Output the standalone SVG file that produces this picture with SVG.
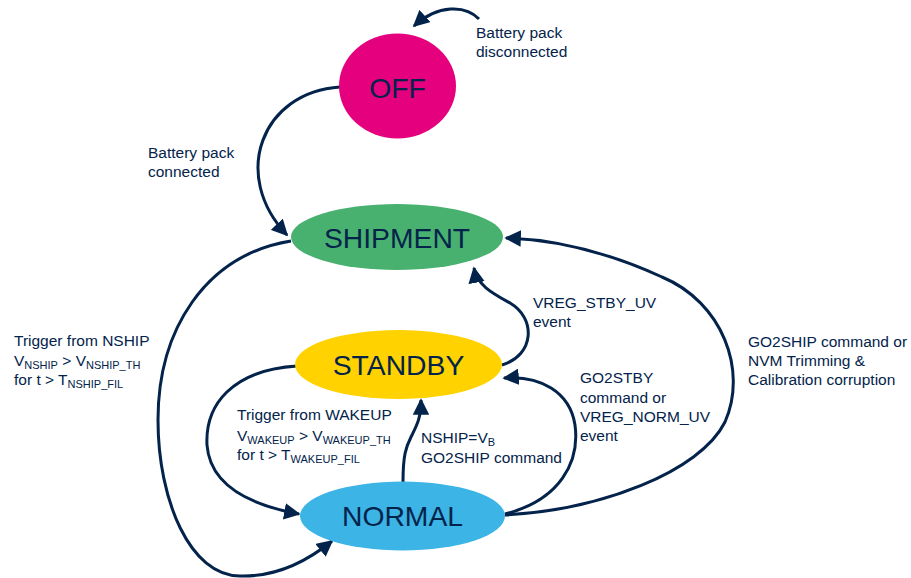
<svg xmlns="http://www.w3.org/2000/svg" width="911" height="578" viewBox="0 0 911 578">
<defs>
<marker id="arr" viewBox="0 0 10 10" refX="9" refY="5" markerWidth="5.5" markerHeight="5.5" markerUnits="strokeWidth" orient="auto">
<path d="M0,0 L10,5 L0,10 z" fill="#03234B"/>
</marker>
<style>
.lbl{font-family:"Liberation Sans",Arial,sans-serif;font-size:15.5px;fill:#03234B}
.sub{font-size:11px}
.node{font-family:"Liberation Sans",Arial,sans-serif;font-size:28.3px;fill:#03234B;text-anchor:middle}
.edge{fill:none;stroke:#03234B;stroke-width:3;marker-end:url(#arr)}
</style>
</defs>
<rect width="911" height="578" fill="#FFFFFF"/>
<g id="connectors">
<path class="edge" d="M479,19 C466,5 438,4 414,26"/>
<path class="edge" d="M340,87 C262,92 230,175 287,235"/>
<path class="edge" d="M291,241 C205,255 158,330 158,420 C158,500 190,576 240,576 C275,577 305,563 332,541"/>
<path class="edge" d="M297,366 C232,370 205,405 207,445 C210,485 250,505 299,514"/>
<path class="edge" d="M403,482 C403,455 406,447 411,437 C417,425 421,418 421,400"/>
<path class="edge" d="M505,514 C560,500 580,462 575,425 C570,392 540,375 504,378"/>
<path class="edge" d="M505,515 C600,510 700,472 725,422 C748,370 722,302 662,277 C612,254 562,240 506,238"/>
<path class="edge" d="M502,365 C535,355 536,318 510,303 C492,293 477,285 474,268"/>
</g>
<g id="off">
<ellipse cx="397.5" cy="86" rx="58.5" ry="52.5" fill="#E5007E"/>
<text class="node" x="397.5" y="98">OFF</text>
</g>
<g id="shipment">
<ellipse cx="397" cy="237" rx="106" ry="33" fill="#49B170"/>
<text class="node" x="397" y="248">SHIPMENT</text>
</g>
<g id="standby">
<ellipse cx="398.5" cy="364.5" rx="103.5" ry="34.5" fill="#FFD200"/>
<text class="node" x="398.5" y="375">STANDBY</text>
</g>
<g id="normal">
<ellipse cx="402.5" cy="516" rx="102.5" ry="34.5" fill="#3CB4E5"/>
<text class="node" x="402.5" y="526">NORMAL</text>
</g>
<g id="labels">
<text class="lbl" x="476" y="38">Battery pack</text>
<text class="lbl" x="476" y="57">disconnected</text>
<text class="lbl" x="148" y="158">Battery pack</text>
<text class="lbl" x="148" y="177">connected</text>
<text class="lbl" x="14" y="346">Trigger from NSHIP</text>
<text class="lbl" x="14" y="366">V<tspan class="sub" dy="3">NSHIP</tspan><tspan dy="-3"> &gt; V</tspan><tspan class="sub" dy="3">NSHIP_TH</tspan></text>
<text class="lbl" x="14" y="385">for t &gt; T<tspan class="sub" dy="3">NSHIP_FIL</tspan></text>
<text class="lbl" x="237" y="420">Trigger from WAKEUP</text>
<text class="lbl" x="237" y="441">V<tspan class="sub" dy="3">WAKEUP</tspan><tspan dy="-3"> &gt; V</tspan><tspan class="sub" dy="3">WAKEUP_TH</tspan></text>
<text class="lbl" x="237" y="460">for t &gt; T<tspan class="sub" dy="3">WAKEUP_FIL</tspan></text>
<text class="lbl" x="421" y="443">NSHIP=V<tspan class="sub" dy="3">B</tspan></text>
<text class="lbl" x="421" y="463">GO2SHIP command</text>
<text class="lbl" x="533" y="308">VREG_STBY_UV</text>
<text class="lbl" x="533" y="327">event</text>
<text class="lbl" x="580" y="383">GO2STBY</text>
<text class="lbl" x="580" y="403">command or</text>
<text class="lbl" x="580" y="422">VREG_NORM_UV</text>
<text class="lbl" x="580" y="441">event</text>
<text class="lbl" x="748" y="347">GO2SHIP command or</text>
<text class="lbl" x="748" y="366">NVM Trimming &amp;</text>
<text class="lbl" x="748" y="385">Calibration corruption</text>
<text x="867" y="587" font-family="Liberation Sans, Arial, sans-serif" font-size="13" fill="#000000">CADC</text>
</g>
</svg>
